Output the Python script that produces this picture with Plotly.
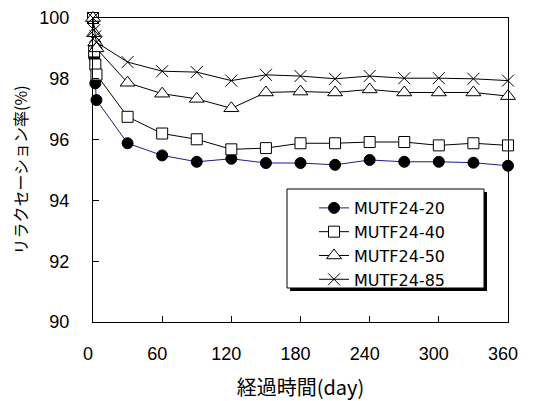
import plotly.graph_objects as go

days = [0, 1, 2, 3, 30, 60, 90, 120, 150, 180, 210, 240, 270, 300, 330, 360]

mutf20 = [100, 98.72, 97.85, 97.3, 95.88, 95.48, 95.27, 95.37, 95.23, 95.23, 95.17, 95.33, 95.27, 95.27, 95.24, 95.14]
mutf40 = [100, 98.9, 98.47, 98.14, 96.75, 96.2, 96.01, 95.68, 95.72, 95.88, 95.88, 95.92, 95.92, 95.81, 95.88, 95.81]
mutf50 = [100, 99.5, 99.2, 99.0, 97.87, 97.51, 97.34, 97.03, 97.55, 97.58, 97.55, 97.65, 97.55, 97.55, 97.55, 97.43]
mutf85 = [100, 99.6, 99.4, 99.2, 98.55, 98.25, 98.22, 97.94, 98.13, 98.09, 98.0, 98.09, 98.02, 98.02, 98.0, 97.94]

names = ["MUTF24-20", "MUTF24-40", "MUTF24-50", "MUTF24-85"]
x_ticks = [0, 60, 120, 180, 240, 300, 360]
y_ticks = [90, 92, 94, 96, 98, 100]

FONT = "Liberation Sans, Arial, Noto Sans CJK JP"
JFONT = "Noto Sans CJK JP, Liberation Sans"
LFONT = "DejaVu Sans, Liberation Sans"

fig = go.Figure()
fig.add_trace(go.Scatter(
    x=days, y=mutf20, name=names[0], mode="lines+markers", cliponaxis=False,
    line=dict(color="#1a1a8c", width=1),
    marker=dict(symbol="circle", size=11, color="black", line=dict(color="black", width=1))))
fig.add_trace(go.Scatter(
    x=days, y=mutf40, name=names[1], mode="lines+markers", cliponaxis=False,
    line=dict(color="black", width=1),
    marker=dict(symbol="square", size=11, color="white", line=dict(color="black", width=1))))
fig.add_trace(go.Scatter(
    x=days, y=mutf50, name=names[2], mode="lines+markers", cliponaxis=False,
    line=dict(color="black", width=1),
    marker=dict(symbol="triangle-up", size=13, color="white", line=dict(color="black", width=1))))
fig.add_trace(go.Scatter(
    x=days, y=mutf85, name=names[3], mode="lines+markers", cliponaxis=False,
    line=dict(color="black", width=1),
    marker=dict(symbol="x-thin", size=12, color="black", line=dict(color="black", width=1))))

# page body has an 8px margin, so the figure is 8px smaller and margins shifted
fig.update_layout(
    width=526, height=393,
    margin=dict(l=85, r=26, t=10, b=79, autoexpand=False),
    paper_bgcolor="white", plot_bgcolor="white",
    font=dict(family=FONT, color="black", size=18),
    showlegend=True,
    legend=dict(
        x=0.5326, y=0.431, xanchor="left", yanchor="top",
        bgcolor="rgba(0,0,0,0)", borderwidth=0,
        font=dict(family=LFONT, size=16),
        tracegroupgap=0, itemwidth=30,
    ),
    shapes=[
        dict(type="rect", xref="paper", yref="paper",
             x0=0.4747, x1=0.9494, y0=0.102, y1=0.4276,
             fillcolor="black", line=dict(width=0), layer="above"),
        dict(type="rect", xref="paper", yref="paper",
             x0=0.4675, x1=0.9422, y0=0.1118, y1=0.4375,
             fillcolor="white", line=dict(color="black", width=1), layer="above"),
    ],
)

fig.update_xaxes(
    range=[0, 360], tickvals=x_ticks, ticktext=[str(v) for v in x_ticks],
    ticks="inside", ticklen=6, tickcolor="black",
    showline=True, linecolor="black", linewidth=1, mirror=True,
    showgrid=False, zeroline=False, ticklabelstandoff=15, ticklabelshift=-5,
    automargin=False,
    tickfont=dict(size=18),
    title=dict(text="経過時間(day)", font=dict(family=JFONT, size=20), standoff=18),
)
fig.update_yaxes(
    range=[90, 100], tickvals=y_ticks, ticktext=[str(v) for v in y_ticks],
    ticks="inside", ticklen=6, tickcolor="black",
    showline=True, linecolor="black", linewidth=1, mirror=True,
    showgrid=False, zeroline=False, ticklabelstandoff=19, automargin=False,
    tickfont=dict(size=18),
    title=dict(text="リラクセーション率(%)", font=dict(family=JFONT, size=16), standoff=8),
)

fig.write_html("out.html")
